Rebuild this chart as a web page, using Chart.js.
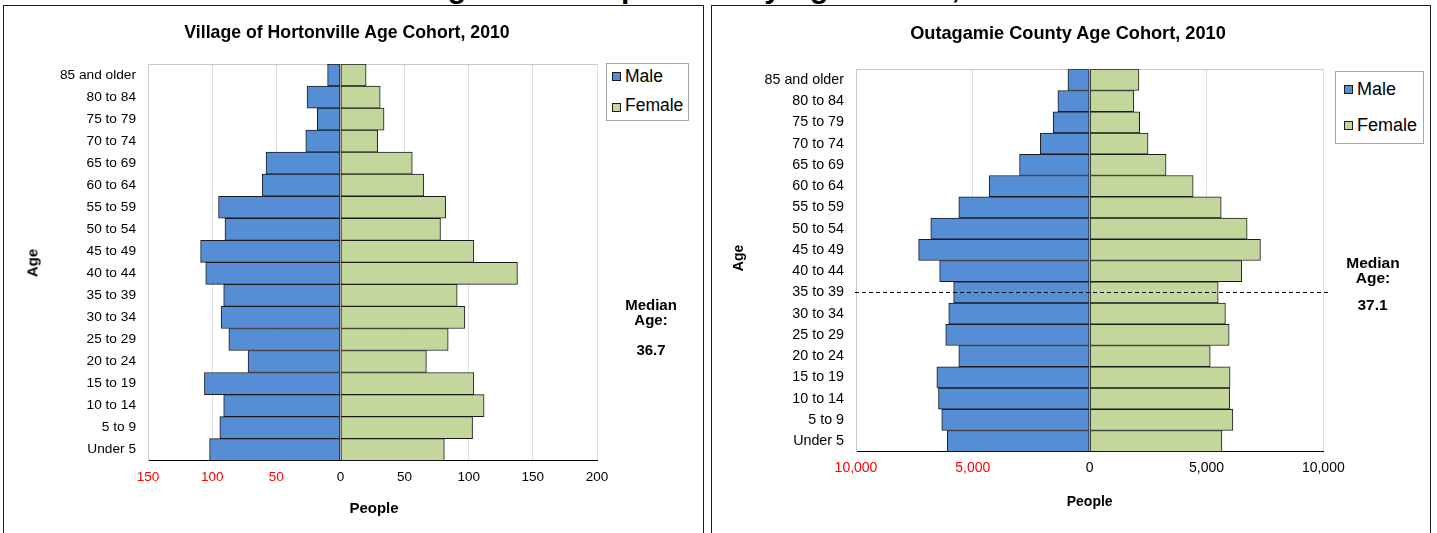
<!DOCTYPE html>
<html>
<head>
<meta charset="utf-8">
<script src="https://cdn.jsdelivr.net/npm/chart.js@4.4.1/dist/chart.umd.min.js"></script>
<style>
html,body{margin:0;padding:0;background:#fff;}
body{width:1437px;height:533px;position:relative;overflow:hidden;font-family:"Liberation Sans",Arial,sans-serif;color:#000;}
.bigtitle{position:absolute;left:421px;top:-27px;font-size:30px;line-height:30px;font-weight:bold;white-space:nowrap;z-index:0;}
.panel{position:absolute;top:5px;height:560px;border:1px solid #1a1a1a;background:#fff;box-sizing:border-box;z-index:1;}
canvas{position:absolute;top:0;z-index:2;}
.t{position:absolute;transform:translate(-50%,-50%);white-space:nowrap;line-height:1;z-index:3;font-weight:bold;}
.rot{transform:translate(-50%,-50%) rotate(-90deg);}
.legend{position:absolute;border:1px solid #a6a6a6;background:#fff;box-sizing:border-box;z-index:3;}
.sw{position:absolute;width:9px;height:9px;border:1px solid #1a1a1a;box-sizing:border-box;z-index:4;}
.lt{position:absolute;transform:translateY(-50%);white-space:nowrap;line-height:1;z-index:4;}
</style>
</head>
<body>
<div class="bigtitle">Figure 2-1: Population by Age Cohort, 2010</div>
<div class="panel" style="left:3px;width:701px;"></div>
<div class="panel" style="left:711px;width:720px;"></div>

<canvas id="left" width="703" height="533" style="left:0px;"></canvas>
<canvas id="right" width="718" height="533" style="left:712px;"></canvas>

<div class="t" style="left:347px;top:32.5px;font-size:17.7px;">Village of Hortonville Age Cohort, 2010</div>
<div class="t" style="left:1068px;top:33px;font-size:18.2px;">Outagamie County Age Cohort, 2010</div>

<div class="t rot" style="left:31.7px;top:263px;font-size:15px;">Age</div>
<div class="t rot" style="left:738.3px;top:258.3px;font-size:14px;">Age</div>
<div class="t" style="left:374px;top:507.3px;font-size:15px;">People</div>
<div class="t" style="left:1089.7px;top:501px;font-size:14px;">People</div>

<div class="t" style="left:651px;top:304px;font-size:15px;">Median</div>
<div class="t" style="left:651px;top:319px;font-size:15px;">Age:</div>
<div class="t" style="left:651px;top:349px;font-size:15px;">36.7</div>
<div class="t" style="left:1373px;top:263.3px;font-size:15.5px;">Median</div>
<div class="t" style="left:1373px;top:278px;font-size:15.5px;">Age:</div>
<div class="t" style="left:1372.5px;top:305px;font-size:15.5px;">37.1</div>

<div class="legend" style="left:606px;top:63px;width:83px;height:58px;"></div>
<div class="sw" id="lsw1" style="left:612px;top:72px;"></div>
<div class="lt" style="left:625px;top:76.7px;font-size:17.5px;" id="lt1"></div>
<div class="sw" id="lsw2" style="left:612px;top:103px;"></div>
<div class="lt" style="left:625px;top:106px;font-size:17.5px;" id="lt2"></div>

<div class="legend" style="left:1335px;top:71px;width:89px;height:73px;"></div>
<div class="sw" id="rsw1" style="left:1343.5px;top:84.5px;"></div>
<div class="lt" style="left:1357px;top:89px;font-size:18px;" id="rt1"></div>
<div class="sw" id="rsw2" style="left:1343.5px;top:120.5px;"></div>
<div class="lt" style="left:1357px;top:125px;font-size:18px;" id="rt2"></div>

<script>
// ---------- DATA ----------
const ageGroups = ['85 and older','80 to 84','75 to 79','70 to 74','65 to 69','60 to 64','55 to 59','50 to 54','45 to 49','40 to 44','35 to 39','30 to 34','25 to 29','20 to 24','15 to 19','10 to 14','5 to 9','Under 5'];
const seriesNames = ['Male','Female'];

const hortonvilleMale   = [10,26,18,27,58,61,95,90,109,105,91,93,87,72,106,91,94,102];
const hortonvilleFemale = [20,31,34,29,56,65,82,78,104,138,91,97,84,67,104,112,103,81];

const outagamieMale   = [930,1360,1560,2110,3000,4300,5600,6800,7320,6420,5820,6030,6160,5600,6540,6470,6330,6090];
const outagamieFemale = [2110,1890,2140,2500,3270,4430,5630,6740,7310,6510,5500,5810,5970,5160,6010,5990,6130,5660];

const hortonvilleTicks = [-150,-100,-50,0,50,100,150,200];
const outagamieTicks   = [-10000,-5000,0,5000,10000];

const outagamieMedianCohort = '35 to 39';

// ---------- STYLE ----------
const FONT = '"Liberation Sans", Arial, sans-serif';
const maleColor = '#558ED5';
const femaleColor = '#C3D69B';
const barBorder = '#1a1a1a';

document.getElementById('lsw1').style.background = maleColor;
document.getElementById('lsw2').style.background = femaleColor;
document.getElementById('rsw1').style.background = maleColor;
document.getElementById('rsw2').style.background = femaleColor;
document.getElementById('lt1').textContent = seriesNames[0];
document.getElementById('lt2').textContent = seriesNames[1];
document.getElementById('rt1').textContent = seriesNames[0];
document.getElementById('rt2').textContent = seriesNames[1];

const frameTop = {
  id: 'frameTop',
  beforeDatasetsDraw(chart) {
    const a = chart.chartArea, ctx = chart.ctx;
    ctx.save();
    ctx.strokeStyle = '#c8c8c8';
    ctx.lineWidth = 1;
    ctx.beginPath();
    ctx.moveTo(a.left, Math.round(a.top) + 0.5);
    ctx.lineTo(a.right, Math.round(a.top) + 0.5);
    ctx.stroke();
    ctx.restore();
  }
};

const medianLine = {
  id: 'medianLine',
  afterDatasetsDraw(chart) {
    const ctx = chart.ctx, x = chart.scales.x, y = chart.scales.y;
    const py = Math.round(y.getPixelForValue(ageGroups.indexOf(outagamieMedianCohort))) + 0.5;
    ctx.save();
    ctx.setLineDash([4, 3]);
    ctx.strokeStyle = '#000';
    ctx.lineWidth = 1;
    ctx.beginPath();
    ctx.moveTo(x.left - 1, py);
    ctx.lineTo(x.right + 5, py);
    ctx.stroke();
    ctx.restore();
  }
};

function makeChart(id, male, female, tickVals, opts, extraPlugins) {
  return new Chart(document.getElementById(id), {
    type: 'bar',
    data: {
      labels: ageGroups,
      datasets: [
        { label: seriesNames[0], data: male.map(v => -v), backgroundColor: maleColor, borderColor: barBorder, borderWidth: 1, borderSkipped: false, barPercentage: 1, categoryPercentage: 1 },
        { label: seriesNames[1], data: female, backgroundColor: femaleColor, borderColor: barBorder, borderWidth: 1, borderSkipped: false, barPercentage: 1, categoryPercentage: 1 }
      ]
    },
    options: {
      indexAxis: 'y',
      responsive: false,
      animation: false,
      devicePixelRatio: 1,
      layout: { padding: opts.padding },
      plugins: { legend: { display: false }, tooltip: { enabled: false }, title: { display: false } },
      scales: {
        x: {
          stacked: true,
          min: tickVals[0],
          max: tickVals[tickVals.length - 1],
          afterBuildTicks: s => { s.ticks = tickVals.map(v => ({ value: v })); },
          afterFit: s => { s.height = 40; },
          grid: { color: '#dedede', lineWidth: 1, drawTicks: false },
          border: { color: '#000', width: 1 },
          ticks: {
            padding: 8,
            font: { family: FONT, size: opts.xFont },
            color: c => (c.tick && c.tick.value < 0) ? '#FF0000' : '#000',
            callback: v => Math.abs(v).toLocaleString('en-US'),
            maxRotation: 0,
            autoSkip: false
          }
        },
        y: {
          stacked: true,
          afterFit: s => { s.width = opts.yWidth; },
          grid: { display: false, drawTicks: false },
          border: { color: '#c8c8c8', width: 1 },
          ticks: { padding: 12, font: { family: FONT, size: opts.yFont }, color: '#000', autoSkip: false }
        }
      }
    },
    plugins: [frameTop].concat(extraPlugins || [])
  });
}

makeChart('left', hortonvilleMale, hortonvilleFemale, hortonvilleTicks,
  { padding: { left: 0, right: 106, top: 64, bottom: 32.3 }, yWidth: 148, xFont: 13.5, yFont: 13.7 }, []);

makeChart('right', outagamieMale, outagamieFemale, outagamieTicks,
  { padding: { left: 0, right: 106.7, top: 69.3, bottom: 41.3 }, yWidth: 144, xFont: 14, yFont: 14.3 }, [medianLine]);
</script>
</body>
</html>
